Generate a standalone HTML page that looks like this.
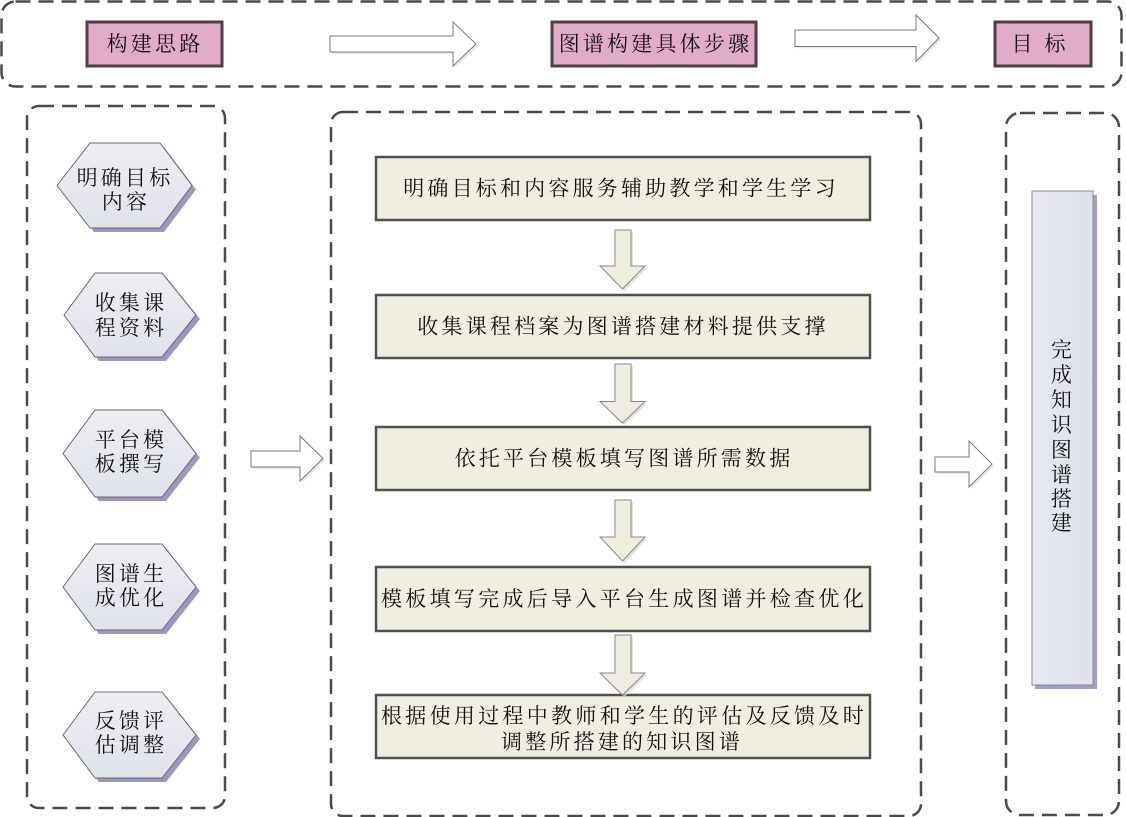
<!DOCTYPE html>
<html><head><meta charset="utf-8">
<style>
html,body{margin:0;padding:0;background:#fff;}
svg{display:block;}
text{font-family:"Liberation Serif","Noto Serif CJK SC",serif;font-size:21px;fill:#111;letter-spacing:3.2px;}
</style></head><body>
<svg width="1126" height="817" viewBox="0 0 1126 817" xmlns="http://www.w3.org/2000/svg">
<defs>
 <linearGradient id="hg" x1="0" y1="0" x2="0" y2="1"><stop offset="0" stop-color="#eceef3"/><stop offset="1" stop-color="#dfe3ea"/></linearGradient>
 <linearGradient id="vg" x1="0" y1="0" x2="1" y2="0"><stop offset="0" stop-color="#e6e9f0"/><stop offset="1" stop-color="#dde1ea"/></linearGradient>
</defs>

<!-- dashed containers -->
<g fill="none" stroke="#4a4a4a" stroke-width="2.5" stroke-dasharray="15 8">
 <rect x="1.5" y="1.5" width="1120" height="85" rx="14"/>
 <rect x="27" y="106" width="198" height="702" rx="12"/>
 <rect x="331" y="112" width="590" height="704" rx="12"/>
 <rect x="1006" y="113" width="113" height="702" rx="14"/>
</g>

<!-- top row boxes -->
<g fill="#e1abca" stroke="#4e3f45" stroke-width="3">
 <rect x="87" y="22" width="135" height="44"/>
 <rect x="552" y="22" width="204" height="44"/>
 <rect x="995" y="22" width="96" height="44"/>
</g>
<text x="155" y="44" text-anchor="middle" dominant-baseline="central">构建思路</text>
<text x="655.5" y="44" text-anchor="middle" dominant-baseline="central">图谱构建具体步骤</text>
<text x="1044.5" y="44" text-anchor="middle" dominant-baseline="central" style="letter-spacing:12px">目标</text>

<!-- hollow arrows -->
<g fill="#d8d8d8" stroke="none" opacity="0.6">
 <polygon points="332,38 455,38 455,24 478,46 455,68 455,54 332,54"/>
 <polygon points="797,32 918,32 918,17 941,40 918,63.5 918,48.5 797,48.5"/>
 <polygon points="253,453 302,453 302,438 325,460.5 302,483 302,469 253,469"/>
 <polygon points="937,459 971,459 971,443 994,466 971,489 971,474 937,474"/>
</g>
<g fill="#fff" stroke="#7a7a7a" stroke-width="1">
 <polygon points="330,36 453,36 453,22 476,44 453,66 453,52 330,52"/>
 <polygon points="795,30 916,30 916,15 939,38 916,61.5 916,46.5 795,46.5"/>
 <polygon points="251,451 300,451 300,436 323,458.5 300,481 300,467 251,467"/>
 <polygon points="935,457 969,457 969,441 992,464 969,487 969,472 935,472"/>
</g>

<!-- hexagons -->
<g fill="#9c95c5">
 <polygon points="61,189.5 94,147 164,147 196,189.5 164,232 94,232"/>
 <polygon points="68,319 99,277 166,277 200,319 166,361 99,361"/>
 <polygon points="67,457.5 99,414 166,414 200,457.5 166,501 99,501"/>
 <polygon points="67,591 99,548 166,548 200,591 166,634 99,634"/>
 <polygon points="67,739 99,696 166,696 200,739 166,782 99,782"/>
</g>
<g fill="url(#hg)" stroke="#6a6a6a" stroke-width="1">
 <polygon points="57,185.5 90,143 160,143 192,185.5 160,228 90,228"/>
 <polygon points="64,315 95,273 162,273 196,315 162,357 95,357"/>
 <polygon points="63,453.5 95,410 162,410 196,453.5 162,497 95,497"/>
 <polygon points="63,587 95,544 162,544 196,587 162,630 95,630"/>
 <polygon points="63,735 95,692 162,692 196,735 162,778 95,778"/>
</g>
<g text-anchor="middle" dominant-baseline="central" style="letter-spacing:3px">
 <text x="125" y="178">明确目标</text>
 <text x="126" y="202">内容</text>
 <text x="131" y="303">收集课</text>
 <text x="131" y="328">程资料</text>
 <text x="131" y="440">平台模</text>
 <text x="131" y="464">板撰写</text>
 <text x="131" y="574">图谱生</text>
 <text x="131" y="598">成优化</text>
 <text x="131" y="721">反馈评</text>
 <text x="131" y="745">估调整</text>
</g>

<!-- step boxes -->
<g fill="#efeee0" stroke="#505050" stroke-width="2.5">
 <rect x="376" y="157" width="494" height="63"/>
 <rect x="376" y="295" width="494" height="63"/>
 <rect x="376" y="427" width="494" height="63"/>
 <rect x="376" y="567" width="494" height="64"/>
 <rect x="376" y="695" width="494" height="63"/>
</g>
<g text-anchor="middle" dominant-baseline="central">
 <text x="621" y="188.5">明确目标和内容服务辅助教学和学生学习</text>
 <text x="623" y="326.5">收集课程档案为图谱搭建材料提供支撑</text>
 <text x="624" y="458.5">依托平台模板填写图谱所需数据</text>
 <text x="624" y="599" style="letter-spacing:3.3px">模板填写完成后导入平台生成图谱并检查优化</text>
 <text x="624" y="716" style="letter-spacing:3.3px">根据使用过程中教师和学生的评估及反馈及时</text>
 <text x="622" y="742">调整所搭建的知识图谱</text>
</g>

<!-- down arrows -->
<g fill="#d6d6d0" opacity="0.7">
 <polygon points="617,232 633,232 633,268 647,268 624.5,291 602,268 617,268"/>
 <polygon points="617,366 633,366 633,403.5 647,403.5 624.5,425 602,403.5 617,403.5"/>
 <polygon points="617,502 633,502 633,539 647,539 624.5,563 602,539 617,539"/>
 <polygon points="617,637 633,637 633,675 647,675 624.5,697 602,675 617,675"/>
</g>
<g fill="#eeede0" stroke="#8a8a80" stroke-width="1">
 <polygon points="615,230 631,230 631,266 645,266 622.5,289 600,266 615,266"/>
 <polygon points="615,364 631,364 631,401.5 645,401.5 622.5,423 600,401.5 615,401.5"/>
 <polygon points="615,500 631,500 631,537 645,537 622.5,561 600,537 615,537"/>
 <polygon points="615,635 631,635 631,673 645,673 622.5,695 600,673 615,673"/>
</g>

<!-- vertical target box -->
<rect x="1035" y="195" width="62" height="494" fill="#a39bc9"/>
<rect x="1032" y="191" width="61" height="494" fill="url(#vg)" stroke="#8a8a95" stroke-width="1"/>
<g text-anchor="middle" dominant-baseline="central" style="letter-spacing:0">
 <text x="1063" y="350">完</text>
 <text x="1063" y="375">成</text>
 <text x="1063" y="400">知</text>
 <text x="1063" y="425">识</text>
 <text x="1063" y="450">图</text>
 <text x="1063" y="475">谱</text>
 <text x="1063" y="499">搭</text>
 <text x="1063" y="523">建</text>
</g>
</svg>
</body></html>
